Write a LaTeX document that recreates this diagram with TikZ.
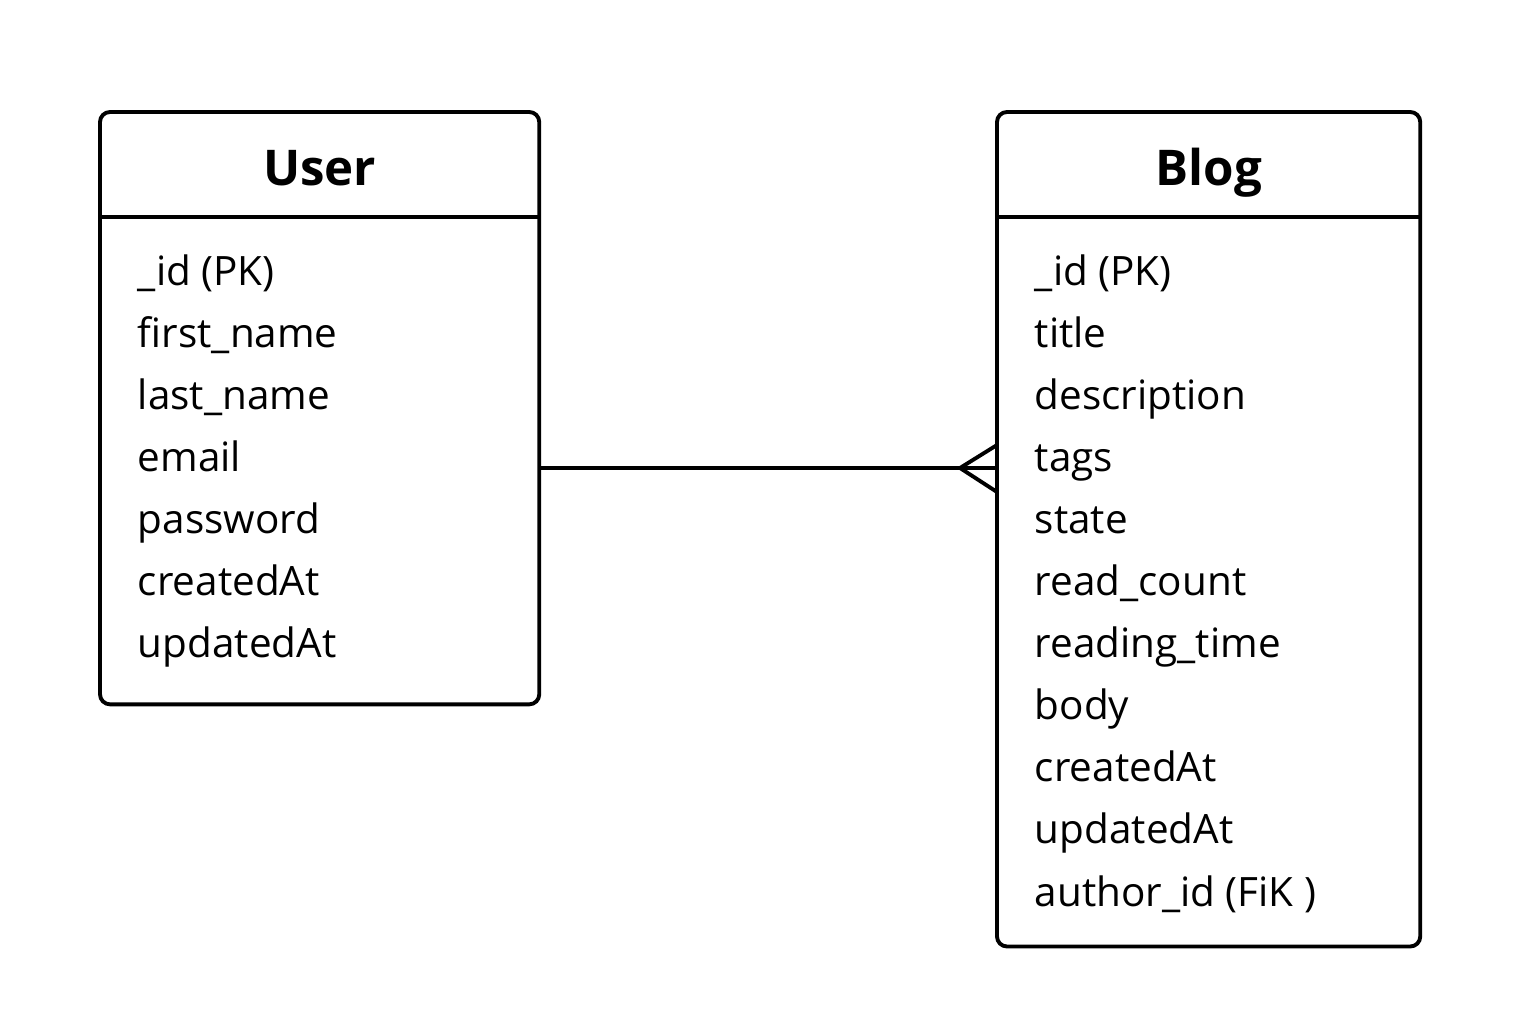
\documentclass[tikz,border=0pt]{standalone}
\usepackage{fontspec}
\setmainfont{Open Sans}
\usetikzlibrary{positioning, calc}

\begin{document}
\begin{tikzpicture}[x=0.01cm, y=-0.01cm, line width=1.1pt,
  entity/.style={draw, rounded corners=0.1cm, anchor=north west, inner sep=0pt, outer sep=0pt},
  entitytitle/.style={font=\fontsize{14}{17}\selectfont\bfseries, anchor=base, inner sep=0pt},
  attr/.style={font=\fontsize{11.5}{14}\selectfont, anchor=base west, inner sep=0pt}]
\useasboundingbox (0,0) rectangle (1536,1024);

% entities
\node[entity, minimum width=4.39cm, minimum height=5.92cm](user) at (100,112) {};
\node[entity, minimum width=4.23cm, minimum height=8.34cm](blog) at (997,112) {};

\coordinate (hdr) at (0,217);
\draw (user.west |- hdr) -- (user.east |- hdr);
\draw (blog.west |- hdr) -- (blog.east |- hdr);

\node[entitytitle](usertitle) at ($(user.north)+(0,73)$) {User};
\node[entitytitle](blogtitle) at ($(blog.north)+(0,73)$) {Blog};

% attributes
\foreach \a [count=\i from 0] in {\_id (PK), first\_name, last\_name, email, password, createdAt, updatedAt}
  \node[attr](u\i) at (136, 285+62.1*\i) {\a};
\foreach \a [count=\i from 0] in {\_id (PK), title, description, tags, state, read\_count, reading\_time, body, createdAt, updatedAt, author\_id (FiK )}
  \node[attr](b\i) at (1033, 285+62.1*\i) {\a};

% one user -- many blogs
\coordinate (rel) at (0,468);
\draw (user.east |- rel) -- (blog.west |- rel);
\draw ($(blog.west |- rel)+(0,-23)$) -- ($(blog.west |- rel)+(-37,0)$) -- ($(blog.west |- rel)+(0,24)$);
\end{tikzpicture}
\end{document}
